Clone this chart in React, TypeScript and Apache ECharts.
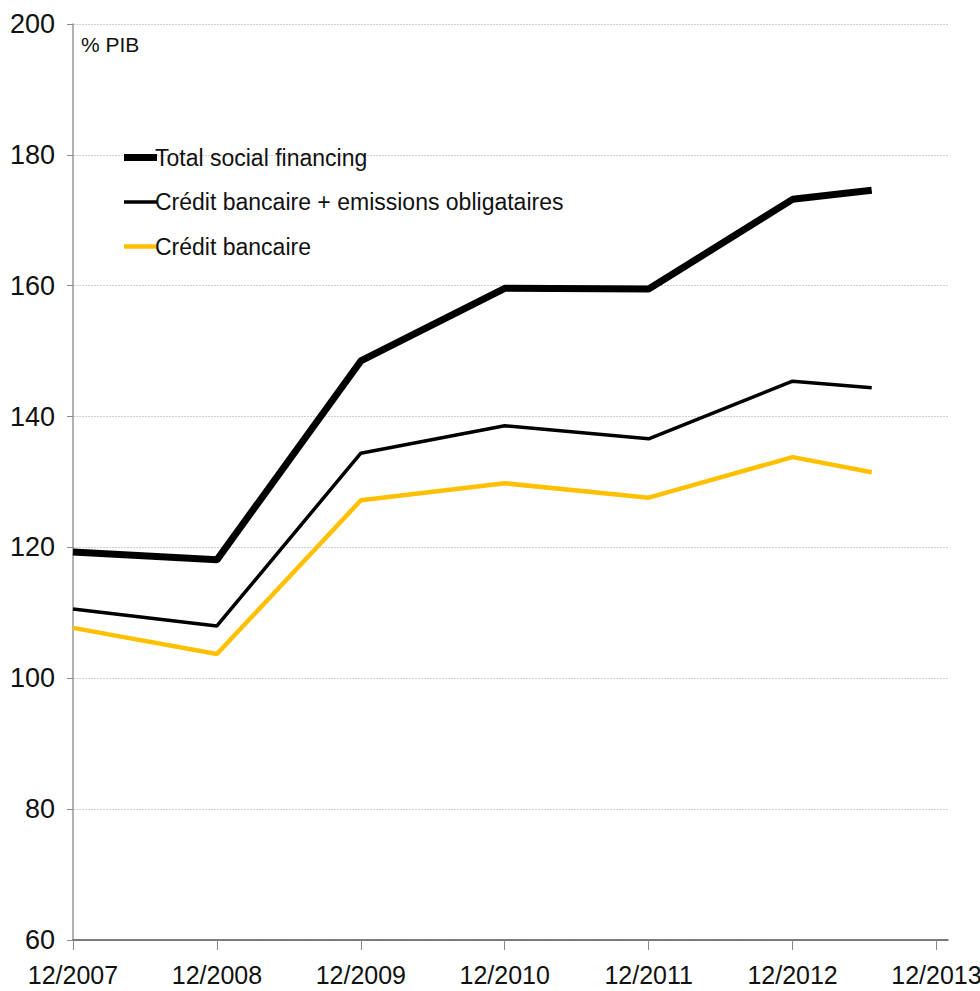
import React, { useEffect, useRef } from "react";
import * as echarts from "echarts";

const xLabels = ["12/2007", "12/2008", "12/2009", "12/2010", "12/2011", "12/2012", "12/2013"];
// positions in years since 12/2007 (last observation ~ mid 2013)
const xPos = [0, 1, 2, 3, 4, 5, 5.55];
const totalSocial = [119.3, 118.1, 148.5, 159.6, 159.5, 173.2, 174.6];
const creditBonds = [110.6, 108.0, 134.4, 138.6, 136.6, 145.4, 144.4];
const bankCredit = [107.7, 103.7, 127.2, 129.8, 127.6, 133.8, 131.5];
const seriesNames = ["Total social financing", "Crédit bancaire + emissions obligataires", "Crédit bancaire"];

const FONT = "'Liberation Sans Narrow', 'Liberation Sans', Arial, sans-serif";

const pairs = (ys: number[]) => ys.map((y, i) => [xPos[i], y]);

export default function App() {
  const ref = useRef<HTMLDivElement>(null);
  useEffect(() => {
    if (!ref.current) return;
    const chart = echarts.init(ref.current, undefined, { renderer: "svg" });
    chart.setOption({
      animation: false,
      backgroundColor: "#ffffff",
      grid: { left: 73, right: 32, top: 24, bottom: 51, containLabel: false, outerBoundsMode: "none" },
      legend: {
        orient: "vertical",
        left: 119,
        top: 141,
        itemWidth: 33,
        itemHeight: 14,
        itemGap: 21.5,
        symbolKeepAspect: true,
        textStyle: { fontFamily: FONT, fontSize: 23, color: "#111", padding: [0, 0, 0, -7] },
        data: [
          { name: seriesNames[0], icon: "path://M0,0H33V7H0Z", itemStyle: { color: "#000" } },
          { name: seriesNames[1], icon: "path://M0,0H33V3.5H0Z", itemStyle: { color: "#000" } },
          { name: seriesNames[2], icon: "path://M0,0H33V4.5H0Z", itemStyle: { color: "#FFC000" } },
        ],
      },
      graphic: [
        {
          type: "text",
          left: 81,
          top: 34,
          style: { text: "% PIB", fontFamily: FONT, fontSize: 21, fill: "#111" },
        },
      ],
      xAxis: {
        type: "value",
        min: 0,
        max: 6.08,
        interval: 1,
        axisLine: { lineStyle: { color: "#555", width: 1.5 } },
        axisTick: { show: true, length: 10, lineStyle: { color: "#888" } },
        splitLine: { show: false },
        axisLabel: {
          fontFamily: FONT,
          fontSize: 25,
          color: "#111",
          margin: 22,
          showMaxLabel: false,
          formatter: (v: number) => {
            const i = Math.round(v);
            return Math.abs(v - i) < 1e-6 && i < xLabels.length ? xLabels[i] : "";
          },
        },
      },
      yAxis: {
        type: "value",
        min: 60,
        max: 200,
        interval: 20,
        axisLine: { show: true, lineStyle: { color: "#999", width: 1.5 } },
        axisTick: { show: true, length: 6, lineStyle: { color: "#888" } },
        splitLine: { show: true, lineStyle: { color: "#d0d0d0", width: 1, type: [2, 1] } },
        axisLabel: { fontFamily: FONT, fontSize: 27, color: "#111", margin: 18 },
      },
      series: [
        {
          name: seriesNames[0],
          type: "line",
          data: pairs(totalSocial),
          symbol: "none",
          lineStyle: { color: "#000", width: 7 },
          itemStyle: { color: "#000" },
          z: 3,
        },
        {
          name: seriesNames[1],
          type: "line",
          data: pairs(creditBonds),
          symbol: "none",
          lineStyle: { color: "#000", width: 3.5 },
          itemStyle: { color: "#000" },
          z: 2,
        },
        {
          name: seriesNames[2],
          type: "line",
          data: pairs(bankCredit),
          symbol: "none",
          lineStyle: { color: "#FFC000", width: 4.5 },
          itemStyle: { color: "#FFC000" },
          z: 1,
        },
      ],
    });
    return () => chart.dispose();
  }, []);
  return <div ref={ref} style={{ width: 980, height: 991, position: "absolute", left: 0, top: 0 }} />;
}
